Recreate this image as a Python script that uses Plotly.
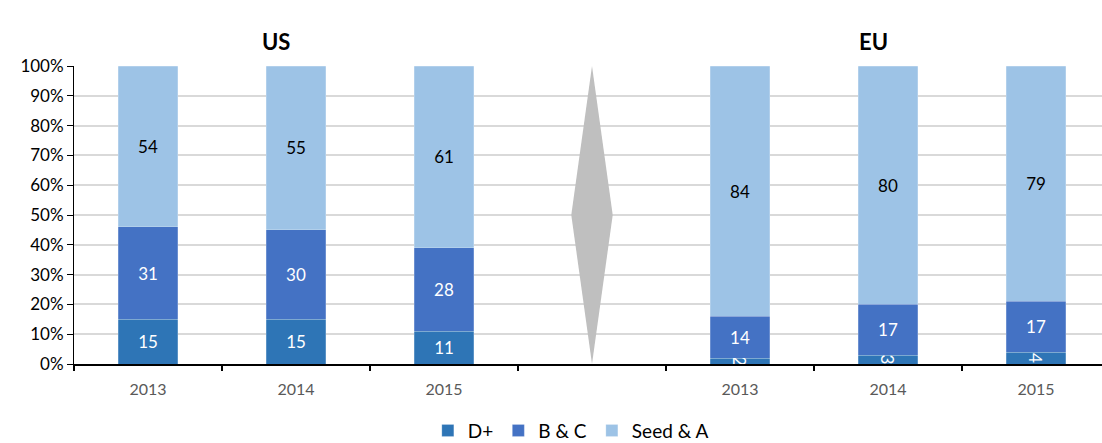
import plotly.graph_objects as go

# Funding-stage shares (%) per year, US and EU
years = ["2013", "2014", "2015"]
regions = ["US", "EU"]
us_d_plus = [15, 15, 11]
us_b_c = [31, 30, 28]
us_seed_a = [54, 55, 61]
eu_d_plus = [2, 3, 4]
eu_b_c = [14, 17, 17]
eu_seed_a = [84, 80, 79]

series_names = ["D+", "B & C", "Seed & A"]
series_colors = ["#2E75B6", "#4472C4", "#9DC3E6"]
text_colors = ["white", "white", "black"]

# slot layout: three US years, a separator slot, three EU years
us_pos = [0, 1, 2]
sep_pos = 3
eu_pos = [4, 5, 6]
x_pos = us_pos + eu_pos
x_lo, x_hi = -0.5, 6.446

series_vals = [
    us_d_plus + eu_d_plus,
    us_b_c + eu_b_c,
    us_seed_a + eu_seed_a,
]

FONT = "Lato, 'Open Sans', sans-serif"

fig = go.Figure()
for name, vals, col, tcol in zip(series_names, series_vals, series_colors, text_colors):
    fig.add_trace(go.Bar(
        x=x_pos, y=vals, name=name, width=0.4,
        marker=dict(color=col, line=dict(color="rgba(255,255,255,0.35)", width=0.6)),
        text=[str(v) for v in vals], textposition="inside",
        insidetextanchor="middle", constraintext="none",
        textfont=dict(color=tcol, size=17, family=FONT),
        cliponaxis=False, hoverinfo="skip",
    ))

# grey diamond separating the two regions
half_w = 0.14
fig.add_trace(go.Scatter(
    x=[sep_pos, sep_pos + half_w, sep_pos, sep_pos - half_w, sep_pos],
    y=[0, 50, 100, 50, 0],
    fill="toself", fillcolor="#BFBFBF", line=dict(width=0),
    mode="lines", showlegend=False, hoverinfo="skip",
))

# invisible trace driving the boundary tick marks axis
fig.add_trace(go.Scatter(x=[x_lo], y=[0], xaxis="x2", mode="markers",
                         marker=dict(opacity=0), showlegend=False, hoverinfo="skip"))

fig.update_layout(
    width=1102, height=443,
    margin=dict(l=74, r=0, t=66, b=79),
    barmode="stack",
    plot_bgcolor="white", paper_bgcolor="white",
    font=dict(family=FONT, size=16, color="#000000"),
    xaxis=dict(
        range=[x_lo, x_hi], tickvals=x_pos, ticktext=years + years,
        ticks="", showgrid=False, zeroline=False,
        showline=True, linecolor="#000000", linewidth=2,
        tickfont=dict(size=16, color="#595959"), ticklabelstandoff=10,
    ),
    xaxis2=dict(
        range=[x_lo, x_hi], overlaying="x", side="bottom",
        tickvals=[p + 0.5 for p in range(-1, 7)],
        ticks="outside", ticklen=6, tickcolor="#000000", tickwidth=1.5,
        showticklabels=False, showgrid=False, zeroline=False,
    ),
    yaxis=dict(
        range=[0, 100], dtick=10, ticksuffix="%",
        showgrid=True, gridcolor="#D9D9D9", gridwidth=1.5,
        zeroline=False, showline=True, linecolor="#000000", linewidth=1,
        ticks="outside", ticklen=6, tickcolor="#000000",
        tickfont=dict(size=17, color="#000000"),
    ),
    legend=dict(
        orientation="h", xref="container", x=0.518, xanchor="center",
        yref="container", y=0.028, yanchor="middle",
        font=dict(size=19, color="#000000"), itemwidth=30, traceorder="normal",
        tracegroupgap=0, borderwidth=0,
    ),
    annotations=[
        dict(text="<b>US</b>", x=0.865, y=1.0, xref="x", yref="paper",
             yshift=40, showarrow=False, font=dict(size=22, color="#000000")),
        dict(text="<b>EU</b>", x=4.905, y=1.0, xref="x", yref="paper",
             yshift=40, showarrow=False, font=dict(size=22, color="#000000")),
    ],
)

fig.write_html("out.html")
